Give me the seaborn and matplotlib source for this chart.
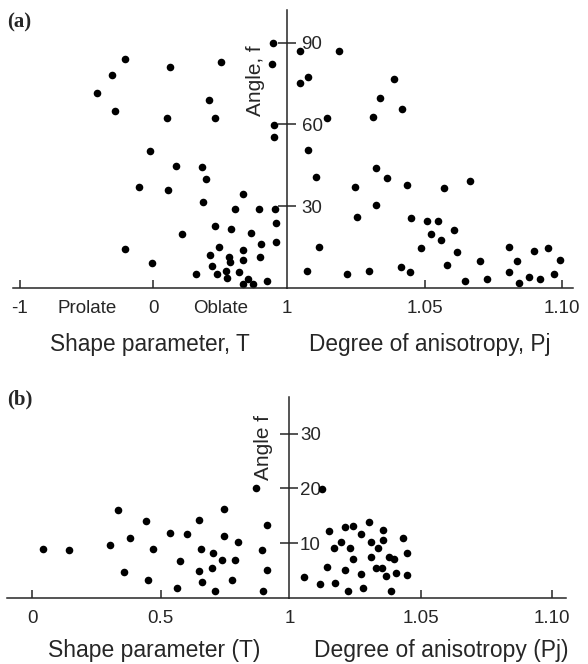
import numpy as np
import pandas as pd
import matplotlib
matplotlib.use('Agg')
import matplotlib.pyplot as plt
import seaborn as sns

sns.set_style('ticks')
plt.rcParams['font.family'] = ['Liberation Sans', 'DejaVu Sans']

# (a) shape parameter T vs angle
a_T = [0.896, 0.889, -0.215, 0.122, 0.509, -0.310, -0.422, 0.414, -0.290, 0.102,
       0.464, 0.903, 0.901, -0.028, 0.172, 0.364, 0.392, -0.108, 0.112, 0.671,
       0.372, 0.609, 0.791, 0.911, 0.914, 0.464, 0.584, 0.731, 0.210, 0.914,
       0.809, 0.491, -0.215, 0.671, 0.427, 0.566, 0.796, 0.575, 0.674, -0.010,
       0.439, 0.542, 0.641, 0.322, 0.476, 0.551, 0.711, 0.851, 0.671, 0.746]
a_T_ang = [89.9, 82.1, 84.1, 81.0, 82.9, 78.0, 71.5, 68.9, 65.0, 62.5,
           62.5, 59.7, 55.4, 50.4, 44.8, 44.3, 39.9, 37.0, 36.0, 34.6,
           31.7, 29.0, 28.8, 29.0, 23.9, 22.8, 21.5, 20.2, 19.7, 16.9,
           16.2, 15.1, 14.4, 13.8, 12.0, 11.4, 11.5, 9.4, 10.3, 9.2,
           8.2, 6.2, 6.0, 5.0, 5.0, 3.8, 3.4, 2.7, 1.4, 1.4]

# (a) degree of anisotropy Pj vs angle
a_P = [1.0047, 1.0190, 1.0047, 1.0076, 1.0389, 1.0338, 1.0418, 1.0313, 1.0144, 1.0076,
       1.0324, 1.0365, 1.0105, 1.0247, 1.0438, 1.0571, 1.0665, 1.0324, 1.0253, 1.0450,
       1.0509, 1.0548, 1.0606, 1.0524, 1.0560, 1.0488, 1.0117, 1.0619, 1.0806, 1.0898,
       1.0948, 1.0702, 1.0837, 1.0993, 1.0583, 1.0415, 1.0072, 1.0217, 1.0299, 1.0447,
       1.0808, 1.0972, 1.0880, 1.0919, 1.0647, 1.0726, 1.0843]
a_P_ang = [87.1, 87.1, 75.2, 77.4, 76.6, 69.8, 65.6, 62.9, 62.5, 50.7,
           44.2, 40.3, 40.6, 37.1, 37.6, 36.7, 39.4, 30.5, 26.0, 25.7,
           24.6, 24.6, 21.4, 19.8, 17.6, 14.6, 15.2, 13.3, 15.1, 13.6,
           14.7, 10.0, 10.0, 10.3, 8.6, 7.8, 6.2, 5.1, 6.2, 6.0,
           6.0, 5.0, 4.2, 3.2, 2.6, 3.2, 2.0]

# (b) shape parameter T vs angle
b_T = [0.043, 0.144, 0.303, 0.334, 0.380, 0.358, 0.441, 0.468, 0.449, 0.537,
       0.600, 0.574, 0.563, 0.649, 0.655, 0.649, 0.661, 0.704, 0.700, 0.710,
       0.745, 0.745, 0.738, 0.800, 0.789, 0.776, 0.871, 0.914, 0.893, 0.914, 0.896]
b_T_ang = [8.9, 8.7, 9.7, 16.1, 11.0, 4.8, 14.0, 9.0, 3.2, 11.9,
           11.6, 6.8, 1.8, 14.3, 8.9, 5.0, 2.9, 8.3, 5.4, 1.3,
           16.3, 11.3, 6.9, 10.2, 6.9, 3.3, 20.0, 13.4, 8.8, 5.2, 1.3]

# (b) degree of anisotropy Pj vs angle
b_P = [1.0124, 1.0057, 1.0117, 1.0173, 1.0222, 1.0280, 1.0388, 1.0143, 1.0212, 1.0273,
       1.0367, 1.0408, 1.0447, 1.0330, 1.0352, 1.0244, 1.0311, 1.0378, 1.0399, 1.0447,
       1.0170, 1.0231, 1.0336, 1.0195, 1.0311, 1.0356, 1.0434, 1.0151, 1.0213, 1.0244,
       1.0274, 1.0305, 1.0358]
b_P_ang = [19.9, 3.9, 2.6, 2.8, 1.3, 1.8, 1.3, 5.6, 5.2, 4.3,
           4.0, 4.5, 4.2, 5.4, 5.4, 7.1, 7.5, 7.5, 7.2, 8.3,
           9.2, 9.2, 9.2, 10.2, 10.2, 10.5, 10.9, 12.2, 12.9, 13.1,
           11.6, 13.8, 12.5]

fig = plt.figure(figsize=(5.88, 6.64), dpi=100)

axaL = fig.add_axes([0.0221, 0.5663, 0.4660, 0.4187])
axaR = fig.add_axes([0.4881, 0.5663, 0.4864, 0.4187])
axbL = fig.add_axes([0.0119, 0.0994, 0.4804, 0.3027])
axbR = fig.add_axes([0.4923, 0.0994, 0.4702, 0.3027])

dot = dict(color='black', s=30, linewidth=0)
sns.scatterplot(x=a_T, y=a_T_ang, ax=axaL, **dot)
sns.scatterplot(x=a_P, y=a_P_ang, ax=axaR, **dot)
sns.scatterplot(x=b_T, y=b_T_ang, ax=axbL, **dot)
sns.scatterplot(x=b_P, y=b_P_ang, ax=axbR, **dot)

lw = 1.1


def style_left(ax, xlim, ylim, ticks, labels, hide):
    ax.set_xlim(*xlim)
    ax.set_ylim(*ylim)
    for s in ['top', 'right', 'left']:
        ax.spines[s].set_visible(False)
    ax.spines['bottom'].set_linewidth(lw)
    ax.set_yticks([])
    ax.set_xticks(ticks)
    ax.set_xticklabels(labels)
    ax.tick_params(axis='x', direction='in', length=6, width=lw, pad=9, labelsize=13.5)
    for i in hide:
        ax.xaxis.get_major_ticks()[i].tick1line.set_visible(False)
    ax.set_ylabel('')


def style_right(ax, xlim, ylim, xt, xtl, yt, pad):
    ax.set_xlim(*xlim)
    ax.set_ylim(*ylim)
    for s in ['top', 'left']:
        ax.spines[s].set_visible(False)
    ax.spines['right'].set_position(('axes', 0))
    ax.spines['right'].set_linewidth(lw)
    ax.spines['bottom'].set_linewidth(lw)
    ax.yaxis.set_ticks_position('right')
    ax.set_yticks(yt)
    ax.tick_params(axis='y', direction='inout', length=13, width=lw, pad=pad, labelsize=13.5)
    ax.set_xticks(xt)
    ax.set_xticklabels(xtl)
    ax.tick_params(axis='x', direction='in', length=6, width=lw, pad=9, labelsize=13.5)
    ax.xaxis.get_major_ticks()[0].tick1line.set_visible(False)
    ax.set_ylabel('')


# panel (a)
style_left(axaL, (-1.052, 1.0), (0, 102), [-1, -0.5, 0, 0.5], ['-1', 'Prolate', '0', 'Oblate'], [1, 3])
style_right(axaR, (1.0, 1.104), (0, 102), [1.0, 1.05, 1.10], ['1', '1.05', '1.10'], [30, 60, 90], 4)
axaL.set_xlabel('Shape parameter, T', fontsize=16.3, labelpad=11)
axaR.set_xlabel('Degree of anisotropy, Pj', fontsize=16.3, labelpad=11)
axaR.text(-0.11, 0.745, 'Angle, f', transform=axaR.transAxes, rotation=90,
          ha='center', va='center', fontsize=15)

# panel (b)
style_left(axbL, (-0.098, 1.0), (0, 36.7), [0, 0.5], ['0', '0.5'], [])
style_right(axbR, (1.0, 1.1055), (0, 36.7), [1.0, 1.05, 1.10], ['1', '1.05', '1.10'], [10, 20, 30], 1)
axbL.set_xlabel('Shape parameter (T)', fontsize=16.5, labelpad=8)
axbR.set_xlabel('Degree of anisotropy (Pj)', fontsize=16.5, labelpad=8)
axbL.xaxis.label.set_x(0.52)
axbR.xaxis.label.set_x(0.548)
axbR.text(-0.095, 0.75, 'Angle f', transform=axbR.transAxes, rotation=90,
          ha='center', va='center', fontsize=15)

fig.text(0.012, 0.966, '(a)', fontsize=15, fontweight='bold', family='Liberation Serif', va='center')
fig.text(0.012, 0.399, '(b)', fontsize=15, fontweight='bold', family='Liberation Serif', va='center')

fig.savefig('out.png', dpi=100)
